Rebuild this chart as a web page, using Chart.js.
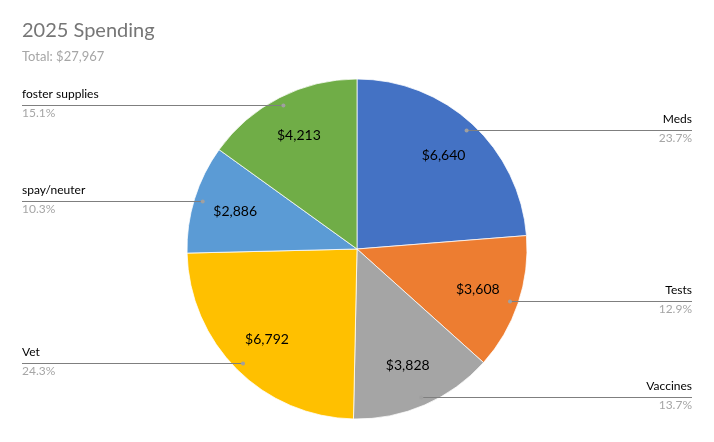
<!DOCTYPE html>
<html>
<head>
<meta charset="utf-8">
<title>2025 Spending</title>
<script src="https://cdn.jsdelivr.net/npm/chart.js@4.4.1/dist/chart.umd.min.js"></script>
<style>
  html, body { margin: 0; padding: 0; background: #fff; }
  #wrap { position: relative; width: 714px; height: 442px; }
</style>
</head>
<body>
<div id="wrap"><canvas id="pieChart"></canvas></div>
<script>
// DATA
var categories = ["Meds", "Tests", "Vaccines", "Vet", "spay/neuter", "foster supplies"];
var amounts = [6640, 3608, 3828, 6792, 2886, 4213];
var sliceColors = ["#4472C4", "#ED7D31", "#A5A5A5", "#FFC000", "#5B9BD5", "#70AD47"];
var chartTitle = "2025 Spending";

var FONT = "Lato, 'Open Sans', sans-serif";
var total = amounts.reduce(function (a, b) { return a + b; }, 0);

function money(v) {
  return "$" + v.toLocaleString("en-US");
}

// draws title, value labels and the leader-line labels
const labelPlugin = {
  id: "excelLabels",
  afterDatasetsDraw(chart) {
    const ctx = chart.ctx;
    const meta = chart.getDatasetMeta(0);
    ctx.save();

    // title + subtitle
    ctx.textBaseline = "middle";
    ctx.textAlign = "left";
    ctx.fillStyle = "#767676";
    ctx.font = "20px " + FONT;
    ctx.fillText(chartTitle, 22, 31);
    ctx.fillStyle = "#a6a6a6";
    ctx.font = "13px " + FONT;
    ctx.fillText("Total: " + money(total), 22, 57);

    meta.data.forEach(function (arc, i) {
      const p = arc.getProps(["x", "y", "startAngle", "endAngle", "outerRadius"], true);
      const mid = (p.startAngle + p.endAngle) / 2;
      const cos = Math.cos(mid), sin = Math.sin(mid);

      // value inside slice
      ctx.fillStyle = "#000";
      ctx.font = "14px " + FONT;
      ctx.textAlign = "center";
      ctx.fillText(money(amounts[i]), p.x + cos * p.outerRadius * 0.75, p.y + sin * p.outerRadius * 0.75);

      // leader line
      const dx = p.x + cos * p.outerRadius * 0.95;
      const dy = Math.round(p.y + sin * p.outerRadius * 0.95) + 0.5;
      const right = cos > 0;
      const endX = right ? 692 : 22;
      ctx.strokeStyle = "#7f7f7f";
      ctx.lineWidth = 1;
      ctx.beginPath();
      ctx.moveTo(dx, dy);
      ctx.lineTo(endX, dy);
      ctx.stroke();
      ctx.fillStyle = "#a0a0a0";
      ctx.beginPath();
      ctx.arc(dx, dy, 2, 0, Math.PI * 2);
      ctx.fill();

      // category + percent
      ctx.textAlign = right ? "right" : "left";
      ctx.fillStyle = "#000";
      ctx.font = "12px " + FONT;
      ctx.fillText(categories[i], endX, dy - 11);
      ctx.fillStyle = "#a6a6a6";
      ctx.fillText((amounts[i] / total * 100).toFixed(1) + "%", endX, dy + 8);
    });
    ctx.restore();
  }
};

const pieChart = new Chart("pieChart", {
  type: "pie",
  data: {
    labels: categories,
    datasets: [{
      data: amounts,
      backgroundColor: sliceColors,
      borderColor: "#ffffff",
      borderWidth: 0.75
    }]
  },
  options: {
    responsive: true,
    maintainAspectRatio: false,
    animation: false,
    radius: 170,
    layout: {
      padding: { top: 79, bottom: 23, left: 0, right: 0 }
    },
    plugins: {
      legend: { display: false },
      tooltip: { enabled: false }
    }
  },
  plugins: [labelPlugin]
});
</script>
</body>
</html>
